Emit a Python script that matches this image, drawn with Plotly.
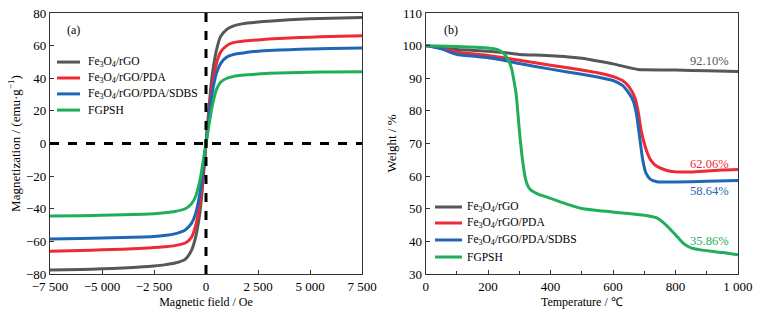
import plotly.graph_objects as go

# ---------- (a) Magnetization data ----------
H = [-7500, -6000, -5000, -4000, -3000, -2500, -2000, -1500, -1000, -700, -500, -300, -200, -100,
     0, 100, 200, 300, 500, 700, 1000, 1300, 1500, 2000, 2500, 3000, 4000, 5000, 6000, 7500]
M_rgo = [-77.5, -77.2, -76.8, -76.3, -75.6, -75.1, -74.4, -73.3, -71.0, -65.5, -57.5, -43.0, -31.0, -16.0,
         0, 15.0, 30.0, 42.0, 57.0, 65.5, 70.0, 72.0, 72.7, 73.8, 74.5, 75.0, 75.8, 76.4, 76.8, 77.2]
M_pda = [-66.0, -65.6, -65.2, -64.8, -64.2, -63.8, -63.3, -62.6, -61.0, -57.5, -50.5, -37.5, -27.0, -14.0,
         0, 13.0, 26.0, 36.0, 49.0, 56.0, 60.0, 61.8, 62.3, 63.0, 63.5, 64.0, 64.7, 65.2, 65.6, 66.0]
M_sdbs = [-58.5, -58.3, -58.0, -57.7, -57.3, -57.0, -56.4, -55.4, -53.0, -49.0, -43.0, -31.0, -22.0, -11.0,
          0, 11.0, 22.0, 31.0, 43.0, 49.0, 53.0, 54.5, 55.0, 56.0, 56.6, 57.0, 57.5, 57.9, 58.2, 58.5]
M_fgpsh = [-44.5, -44.3, -44.0, -43.7, -43.3, -43.0, -42.5, -41.7, -40.0, -37.0, -32.5, -23.0, -16.0, -8.0,
           0, 8.0, 16.0, 23.0, 33.0, 37.5, 40.0, 41.0, 41.5, 42.2, 42.6, 43.0, 43.4, 43.7, 43.9, 44.0]

# ---------- (b) TGA data ----------
T_rgo = [0, 50, 100, 200, 250, 300, 350, 450, 500, 550, 600, 650, 680, 700, 800, 900, 1000]
W_rgo = [100, 99.3, 98.8, 98.3, 97.9, 97.3, 97.1, 96.6, 96.1, 95.3, 94.4, 93.3, 92.7, 92.6, 92.5, 92.3, 92.1]

T_pda = [0, 50, 100, 150, 200, 250, 300, 400, 500, 550, 600, 630, 650, 670, 680, 690, 700, 710, 720,
         740, 770, 800, 850, 900, 950, 1000]
W_pda = [100, 99.3, 98.0, 97.5, 97.0, 96.3, 95.5, 94.0, 92.5, 91.7, 90.5, 89.3, 87.5, 84.0, 80.0, 74.0,
         70.0, 67.0, 65.0, 63.0, 61.8, 61.3, 61.3, 61.6, 61.9, 62.06]

T_sdbs = [0, 50, 100, 150, 200, 250, 300, 400, 500, 550, 600, 630, 650, 665, 675, 685, 695, 705, 720,
          740, 760, 800, 900, 1000]
W_sdbs = [100, 99.0, 97.3, 96.8, 96.3, 95.5, 94.5, 92.8, 91.2, 90.4, 89.3, 87.8, 85.5, 83.0, 79.0, 72.0,
          65.0, 61.0, 59.0, 58.3, 58.2, 58.2, 58.4, 58.64]

T_fgpsh = [0, 100, 200, 230, 250, 265, 275, 285, 290, 300, 310, 320, 330, 340, 360, 400, 450, 500, 600,
           700, 740, 770, 800, 825, 850, 880, 950, 1000]
W_fgpsh = [100, 99.7, 99.3, 98.8, 97.6, 95.5, 93.0, 88.0, 85.0, 74.0, 65.0, 59.0, 56.5, 55.5, 54.5, 53.2,
           51.5, 50.1, 49.0, 48.0, 47.2, 45.0, 42.0, 39.4, 38.0, 37.4, 36.6, 35.86]

names = ["Fe<sub>3</sub>O<sub>4</sub>/rGO", "Fe<sub>3</sub>O<sub>4</sub>/rGO/PDA",
         "Fe<sub>3</sub>O<sub>4</sub>/rGO/PDA/SDBS", "FGPSH"]
colors = ["#555759", "#ee2a36", "#1f66b5", "#1fae5a"]
final_labels = ["92.10%", "62.06%", "58.64%", "35.86%"]
label_x = [910, 910, 910, 910]
label_y = [95.3, 63.7, 55.4, 40.1]

xa_ticks = [-7500, -5000, -2500, 0, 2500, 5000, 7500]
xa_text = ["\u22127 500", "\u22125 000", "\u22122 500", "0", "2 500", "5 000", "7 500"]
ya_ticks = [-80, -60, -40, -20, 0, 20, 40, 60, 80]
ya_text = [("\u2212" + str(-v)) if v < 0 else str(v) for v in ya_ticks]
xb_ticks = [0, 200, 400, 600, 800, 1000]
xb_text = ["0", "200", "400", "600", "800", "1 000"]
yb_ticks = [30, 40, 50, 60, 70, 80, 90, 100, 110]

FONT = "Liberation Serif, Times New Roman, serif"

fig = go.Figure()

Ms = [M_rgo, M_pda, M_sdbs, M_fgpsh]
for n, c, m in zip(names, colors, Ms):
    fig.add_trace(go.Scatter(x=H, y=m, mode="lines", name=n,
                             line=dict(color=c, width=3, shape="spline", smoothing=0.6),
                             xaxis="x", yaxis="y", showlegend=False))

Ts = [T_rgo, T_pda, T_sdbs, T_fgpsh]
Ws = [W_rgo, W_pda, W_sdbs, W_fgpsh]
for n, c, t, w in zip(names, colors, Ts, Ws):
    fig.add_trace(go.Scatter(x=t, y=w, mode="lines", name=n,
                             line=dict(color=c, width=3, shape="spline", smoothing=0.6),
                             xaxis="x2", yaxis="y2", showlegend=False))

# dashed zero lines in (a)
fig.add_shape(type="line", xref="x", yref="y", x0=0, x1=0, y0=-80, y1=80,
              line=dict(color="black", width=3, dash="dash"))
fig.add_shape(type="line", xref="x", yref="y", x0=-7500, x1=7500, y0=0, y1=0,
              line=dict(color="black", width=3, dash="dash"))

# legends (drawn in paper coordinates)
leg_a_rows = [0.812, 0.751, 0.690, 0.628]
leg_b_rows = [0.2567, 0.1954, 0.1303, 0.0651]
for rows, lx0, lx1, tx in [(leg_a_rows, 0.0102, 0.0436, 0.0530), (leg_b_rows, 0.5596, 0.5988, 0.6030)]:
    for n, c, yy in zip(names, colors, rows):
        fig.add_shape(type="line", xref="paper", yref="paper", x0=lx0, x1=lx1, y0=yy, y1=yy,
                      line=dict(color=c, width=3))
        fig.add_annotation(x=tx, y=yy, xref="paper", yref="paper", text=n, showarrow=False,
                           xanchor="left", yanchor="middle",
                           font=dict(family=FONT, size=11.5, color="black"))

for lab, x, y, c in zip(final_labels, label_x, label_y, colors):
    fig.add_annotation(x=x, y=y, xref="x2", yref="y2", text=lab, showarrow=False,
                       font=dict(family=FONT, size=12.5, color=c))

fig.add_annotation(x=0.022, y=0.935, xref="paper", yref="paper", text="(a)", showarrow=False,
                   font=dict(family=FONT, size=12, color="black"), xanchor="left", yanchor="middle")
fig.add_annotation(x=0.570, y=0.935, xref="paper", yref="paper", text="(b)", showarrow=False,
                   font=dict(family=FONT, size=12, color="black"), xanchor="left", yanchor="middle")

axis_common = dict(showline=True, linecolor="#333333", linewidth=1.2, mirror=True, ticks="inside",
                   ticklen=4, tickcolor="#333333", showgrid=False, zeroline=False, automargin=False,
                   tickfont=dict(family=FONT, size=13, color="black"))

fig.update_layout(
    width=759, height=317,
    margin=dict(l=50, r=21, t=13, b=43),
    plot_bgcolor="white", paper_bgcolor="white",
    font=dict(family=FONT, size=12, color="black"),
    xaxis=dict(domain=[0, 0.4535], range=[-7500, 7500], tickvals=xa_ticks, ticktext=xa_text,
               title=dict(text="Magnetic field / Oe", font=dict(family=FONT, size=12), standoff=4),
               anchor="y", **axis_common),
    yaxis=dict(domain=[0, 1], range=[-80, 80], tickvals=ya_ticks, ticktext=ya_text,
               title=dict(text="Magnetization / (emu\u00b7g<sup>\u22121</sup>)", font=dict(family=FONT, size=13), standoff=2),
               anchor="x", **axis_common),
    xaxis2=dict(domain=[0.546, 1.0], range=[0, 1000], tickvals=xb_ticks, ticktext=xb_text,
                minor=dict(tickvals=[100, 300, 500, 700, 900], ticks="inside", ticklen=3, tickcolor="#333333"),
                title=dict(text="Temperature / \u2103", font=dict(family=FONT, size=12), standoff=4),
                anchor="y2", **axis_common),
    yaxis2=dict(domain=[0, 1], range=[30, 110], tickvals=yb_ticks,
                title=dict(text="Weight / %", font=dict(family=FONT, size=13), standoff=2),
                anchor="x2", **axis_common),
    showlegend=False,
)

fig.write_html("out.html", config={"displayModeBar": False},
               post_script="document.body.style.margin='0';")
